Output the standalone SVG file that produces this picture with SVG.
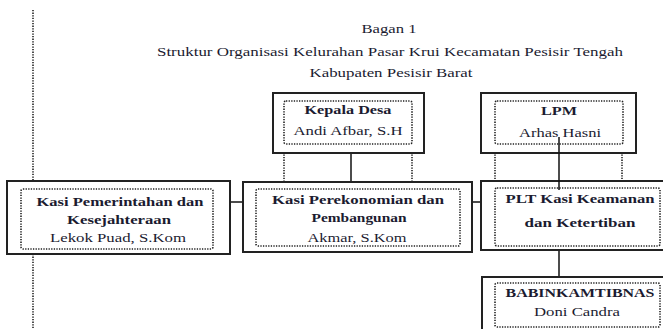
<svg xmlns="http://www.w3.org/2000/svg" width="663" height="329" viewBox="0 0 663 329">
<style>
.outer{fill:#fff;stroke:#222;stroke-width:2}
.inner{fill:none;stroke:#222;stroke-width:1.6;stroke-dasharray:1.3 1.3}
.dot{stroke:#222;stroke-width:1.6;stroke-dasharray:1.3 1.3;fill:none}
.line{stroke:#111;stroke-width:1.5;fill:none}
text{font-family:"Liberation Serif","DejaVu Serif","Times New Roman",serif;font-size:13px;fill:#1b1b30;text-anchor:middle}
.b{font-weight:bold}
</style>
<rect width="663" height="329" fill="#fff"/>
<g id="titles">
<text x="389" y="33" textLength="55" lengthAdjust="spacingAndGlyphs">Bagan 1</text>
<text x="390" y="56" textLength="466" lengthAdjust="spacingAndGlyphs">Struktur  Organisasi Kelurahan Pasar Krui Kecamatan Pesisir  Tengah</text>
<text x="391" y="77" textLength="163" lengthAdjust="spacingAndGlyphs">Kabupaten Pesisir  Barat</text>
</g>
<g id="connectors">
<line class="dot" x1="33" y1="10" x2="33" y2="181"/>
<line class="dot" x1="33" y1="254" x2="33" y2="329"/>
<line class="dot" x1="284" y1="144" x2="284" y2="182"/>
<line class="dot" x1="412" y1="144" x2="412" y2="182"/>
<line class="dot" x1="495" y1="144" x2="495" y2="181"/>
<line class="dot" x1="622" y1="144" x2="622" y2="181"/>
<line class="line" x1="351" y1="153" x2="351" y2="182"/>
<line class="line" x1="230" y1="202" x2="243" y2="202"/>
<line class="line" x1="472" y1="202" x2="481" y2="202"/>
<line class="line" x1="559" y1="250" x2="559" y2="277"/>
</g>
<g id="kepala-desa">
<rect class="outer" x="273" y="93" width="151" height="60"/>
<rect class="inner" x="284" y="101" width="128" height="43" rx="2"/>
<text class="b" x="348" y="114" textLength="87" lengthAdjust="spacingAndGlyphs">Kepala  Desa</text>
<text x="348" y="135" textLength="109" lengthAdjust="spacingAndGlyphs">Andi Afbar, S.H</text>
</g>
<g id="lpm">
<rect class="outer" x="481" y="93" width="155" height="60"/>
<rect class="inner" x="495" y="101" width="128" height="43" rx="2"/>
<text class="b" x="559" y="115" textLength="36" lengthAdjust="spacingAndGlyphs">LPM</text>
<text x="560" y="137" textLength="82" lengthAdjust="spacingAndGlyphs">Arhas Hasni</text>
</g>
<g id="kasi-pemerintahan">
<rect class="outer" x="7" y="181" width="223" height="73"/>
<rect class="inner" x="21" y="189" width="192" height="60" rx="2"/>
<text class="b" x="120" y="206" textLength="167" lengthAdjust="spacingAndGlyphs">Kasi Pemerintahan  dan</text>
<text class="b" x="119" y="224" textLength="104" lengthAdjust="spacingAndGlyphs">Kesejahteraan</text>
<text x="118" y="242" textLength="136" lengthAdjust="spacingAndGlyphs">Lekok Puad, S.Kom</text>
</g>
<g id="kasi-perekonomian">
<rect class="outer" x="243" y="182" width="229" height="70"/>
<rect class="inner" x="256" y="189" width="204" height="57" rx="2"/>
<text class="b" x="358" y="204" textLength="172" lengthAdjust="spacingAndGlyphs">Kasi Perekonomian  dan</text>
<text class="b" x="359" y="222" textLength="95" lengthAdjust="spacingAndGlyphs">Pembangunan</text>
<text x="357" y="242" textLength="99" lengthAdjust="spacingAndGlyphs">Akmar, S.Kom</text>
</g>
<g id="plt-kasi-keamanan">
<rect class="outer" x="481" y="181" width="184" height="69"/>
<rect class="inner" x="495" y="188" width="165" height="58" rx="2"/>
<text class="b" x="580" y="203" textLength="149" lengthAdjust="spacingAndGlyphs">PLT Kasi  Keamanan</text>
<text class="b" x="580" y="227" textLength="111" lengthAdjust="spacingAndGlyphs">dan  Ketertiban</text>
</g>
<line class="line" x1="559" y1="137" x2="559" y2="190"/>
<g id="babinkamtibnas">
<rect class="outer" x="482" y="277" width="185" height="60"/>
<rect class="inner" x="495" y="283" width="165" height="44" rx="2"/>
<text class="b" x="580" y="297" textLength="149" lengthAdjust="spacingAndGlyphs">BABINKAMTIBNAS</text>
<text x="577" y="316" textLength="86" lengthAdjust="spacingAndGlyphs">Doni Candra</text>
</g>
</svg>
